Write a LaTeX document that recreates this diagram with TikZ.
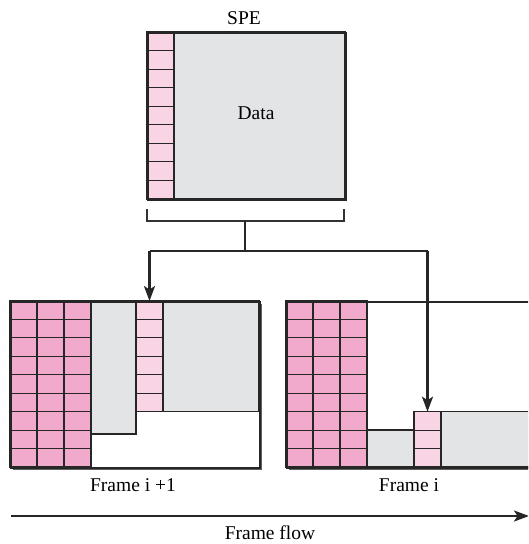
\documentclass[tikz,border=0pt]{standalone}
\usepackage{fontspec}
\setmainfont{Liberation Serif}
\usepackage{xcolor}
\usetikzlibrary{arrows.meta}
\definecolor{sohpink}{RGB}{242,170,204}
\definecolor{pohpink}{RGB}{249,212,228}
\definecolor{payloadgray}{RGB}{227,228,230}
\definecolor{shadowgray}{RGB}{95,95,95}
\tikzset{
every picture/.style={line width=1pt, >={Stealth[length=15pt,width=11pt,inset=3.5pt]}},
%%%%%%%%%%  Fill styles
soh/.style={fill=sohpink, draw=black!85, line width=1.2pt},
poh/.style={fill=pohpink, draw=black!85, line width=1.2pt},
payload/.style={fill=payloadgray, draw=black!85, line width=1.2pt},
shadow/.style={fill=shadowgray},
%%%%%%%%%%  Node styles
framebox/.style={draw=black!85, line width=1.6pt, inner sep=0pt, anchor=north west},
label/.style={font=\fontsize{19.5}{22}\selectfont, inner sep=0pt},
%%%%%%%%%%  Line styles
bracket/.style={line width=1.6pt, draw=black!80},
pointer/.style={line width=2.4pt, draw=black!85}
}
\begin{document}
\begin{tikzpicture}[x=1pt,y=-1pt]
\clip (0,0) rectangle (528,544);
%%%%%%%%%%%%%%%%%%%%%%%
%%SPE block
\draw[payload] (174,32) rectangle (345,199);
\foreach \r in {0,...,8}
	\draw[poh] (147,{32+18.556*\r}) rectangle ++(27,18.556);
\node[framebox, minimum width=198pt, minimum height=167pt] (spe) at (147,32) {};
\node[label] (spename) at (244,18) {SPE};
\node[label] (dataname) at (256,113) {Data};
%%bracket under the SPE
\draw[bracket] (147,209) -- (147,221) -- (344,221) -- (344,209);
\coordinate (brk) at (245,221);
\coordinate (split) at (245,251);
\coordinate (splitA) at (149.5,251);
\coordinate (splitB) at (427.5,251);
%%%%%%%%%%%%%%%%%%%%%%%
%%Frame i+1
\fill[shadow] (13,304) rectangle (262,470);
\fill[white] (10,301) rectangle (259,467);
\draw[payload] (91,301) rectangle (136,434);
\foreach \r in {0,...,5}
	\draw[poh] (136,{301+18.444*\r}) rectangle ++(27,18.444);
\draw[payload] (163,301) rectangle (259,411.7);
\foreach \c in {0,1,2}
	\foreach \r in {0,...,8}
		\draw[soh] ({10+27*\c},{301+18.444*\r}) rectangle ++(27,18.444);
\node[framebox, minimum width=249pt, minimum height=166pt] (fnext) at (10,301) {};
\coordinate (pohA) at (149.5,301);
\node[label] (fnextname) at (133,485) {Frame i +1};
%%%%%%%%%%%%%%%%%%%%%%%
%%Frame i (runs off the right edge, so only the bottom shadow)
\fill[shadow] (289,465) rectangle (570,470);
\fill[white] (286,301) rectangle (567,467);
\draw[payload] (367,430) rectangle (414,467);
\foreach \r in {6,7,8}
	\draw[poh] (414,{301+18.444*\r}) rectangle ++(27,18.444);
\draw[payload] (441,411.7) rectangle (567,467);
\foreach \c in {0,1,2}
	\foreach \r in {0,...,8}
		\draw[soh] ({286+27*\c},{301+18.444*\r}) rectangle ++(27,18.444);
\node[framebox, minimum width=281pt, minimum height=166pt] (fcur) at (286,301) {};
\coordinate (pohB) at (427.5,411.7);
\node[label] (fcurname) at (409,485) {Frame i};
%%%%%%%%%%%%%%%%%%%%%%%
%%pointers into the frames
\draw[pointer] (brk) -- (split);
\draw[pointer] (splitA) -- (splitB);
\draw[pointer,->] (splitA) -- (pohA);
\draw[pointer,->] (splitB) -- (pohB);
%%%%%%%%%%%%%%%%%%%%%%%
%%frame flow
\coordinate (flowL) at (11,516);
\coordinate (flowR) at (529,516);
\draw[pointer,->] (flowL) -- (flowR);
\node[label] (flowname) at (270,533) {Frame flow};
\end{tikzpicture}
\end{document}
